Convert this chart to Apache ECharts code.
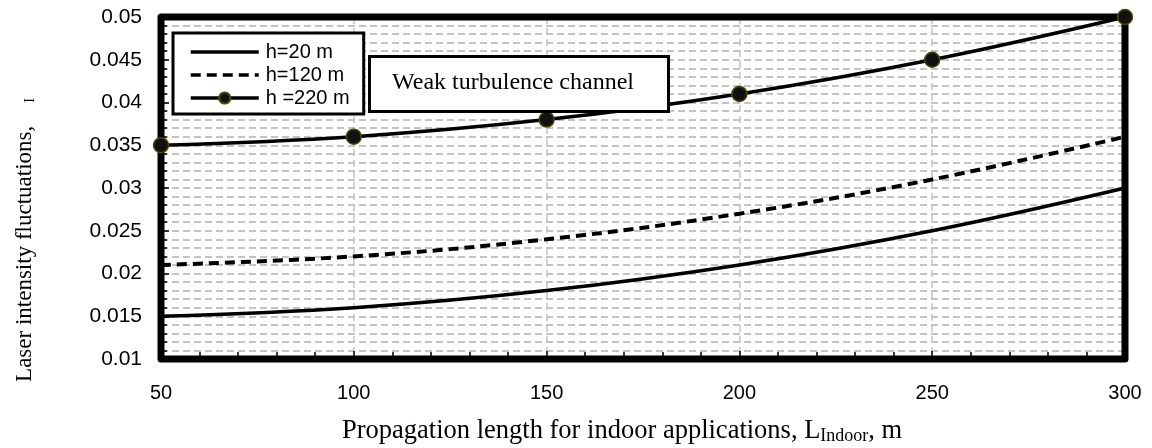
<!DOCTYPE html>
<html>
<head>
<meta charset="utf-8">
<script src="https://cdn.jsdelivr.net/npm/echarts@6/dist/echarts.min.js"></script>
<style>
  html, body { margin: 0; padding: 0; background: #fff; }
  #chart { width: 1152px; height: 448px; }
</style>
</head>
<body>
<div id="chart"></div>
<script>
// propagation length, m
const lengths = [50, 100, 150, 200, 250, 300];
// scintillation values
const h20 = [0.015, 0.016, 0.018, 0.021, 0.025, 0.030];
const h120 = [0.021, 0.022, 0.024, 0.027, 0.031, 0.036];
const h220 = [0.035, 0.036, 0.038, 0.041, 0.045, 0.050];
const seriesNames = ['h=20 m', 'h=120 m', 'h =220 m'];

const pairs = arr => lengths.map((x, i) => [x, arr[i]]);

const gridDash = { color: '#c4c4c4', type: [7, 4], width: 2 };
const noMark = { color: 'transparent', borderColor: 'transparent', borderWidth: 0 };

let chart = echarts.init(document.getElementById('chart'));
chart.setOption({
  animation: false,
  grid: { left: 161, right: 27, top: 17, bottom: 89 },
  legend: {
    orient: 'vertical',
    left: 173, top: 33,
    padding: [9, 14, 6, 16],
    backgroundColor: '#fff',
    borderColor: '#000', borderWidth: 3,
    itemWidth: 68, itemHeight: 14, itemGap: 3,
    lineStyle: { width: 3.5 },
    textStyle: { fontFamily: 'Liberation Sans, Arial', fontSize: 20, color: '#000', padding: [0, 0, 0, 2] },
    data: [
      { name: seriesNames[0], itemStyle: noMark },
      { name: seriesNames[1], itemStyle: noMark },
      { name: seriesNames[2] }
    ]
  },
  xAxis: {
    type: 'value', min: 50, max: 300, interval: 50,
    axisLine: { show: false },
    axisTick: { show: true, inside: true, length: 8, lineStyle: { color: '#000', width: 1.5 } },
    minorTick: { show: true, splitNumber: 5, length: 7, lineStyle: { color: '#000', width: 1.5 } },
    axisLabel: { margin: 24, fontFamily: 'Liberation Sans, Arial', fontSize: 20, color: '#000' },
    splitLine: { show: true, lineStyle: { color: '#c4c4c4', type: [7, 4], width: 1.5 } }
  },
  yAxis: {
    type: 'value', min: 0.01, max: 0.05, interval: 0.005,
    axisLine: { show: false },
    axisTick: { show: true, inside: true, length: 8, lineStyle: { color: '#000', width: 1.5 } },
    minorTick: { show: true, splitNumber: 5, length: 6, lineStyle: { color: '#000', width: 1.5 } },
    axisLabel: { margin: 19, fontFamily: 'Liberation Sans, Arial', fontSize: 21, color: '#000' },
    splitLine: { show: true, lineStyle: gridDash },
    minorSplitLine: { show: true, lineStyle: gridDash }
  },
  series: [
    {
      name: seriesNames[0], type: 'line', smooth: 0.4, symbol: 'none',
      lineStyle: { color: '#000', width: 3.5 }, itemStyle: { color: '#000' },
      data: pairs(h20)
    },
    {
      name: seriesNames[1], type: 'line', smooth: 0.4, symbol: 'none',
      lineStyle: { color: '#000', width: 4, type: [10, 6] }, itemStyle: { color: '#000' },
      data: pairs(h120)
    },
    {
      name: seriesNames[2], type: 'line', smooth: 0.4, symbol: 'circle', symbolSize: 15,
      lineStyle: { color: '#000', width: 3.5 },
      itemStyle: { color: '#111', borderColor: '#4a4a00', borderWidth: 1.5 },
      data: pairs(h220), z: 20
    }
  ],
  graphic: [
    {
      // plot frame
      type: 'rect', x: 161, y: 17, z: 10, silent: true,
      shape: { width: 964, height: 342 },
      style: { fill: 'none', stroke: '#000', lineWidth: 7, lineJoin: 'round' }
    },
    {
      type: 'rect', left: 368, top: 55, z: 50,
      shape: { width: 299, height: 55 },
      style: { fill: '#fff', stroke: '#000', lineWidth: 3 }
    },
    {
      type: 'text', x: 513, y: 83, z: 51,
      style: {
        text: 'Weak turbulence channel', align: 'center', verticalAlign: 'middle',
        fontFamily: 'Liberation Serif, Times New Roman', fontSize: 24, fill: '#000'
      }
    },
    {
      type: 'text', x: 342, y: 431,
      style: {
        text: 'Propagation length for indoor applications, L{sub|Indoor}, m',
        verticalAlign: 'middle',
        fontFamily: 'Liberation Serif, Times New Roman', fontSize: 26.5, fill: '#000',
        rich: {
          sub: { fontFamily: 'Liberation Serif, Times New Roman', fontSize: 18, fill: '#000', padding: [10, 0, 0, 0] }
        }
      }
    },
    {
      type: 'text', x: 25, y: 240, rotation: Math.PI / 2,
      style: {
        text: 'Laser intensity fluctuations,    {sub|I}',
        align: 'center', verticalAlign: 'middle',
        fontFamily: 'Liberation Serif, Times New Roman', fontSize: 23, fill: '#000',
        rich: {
          sub: { fontFamily: 'Liberation Serif, Times New Roman', fontSize: 14, fill: '#000', padding: [10, 0, 0, 0] }
        }
      }
    }
  ]
});
</script>
</body>
</html>
